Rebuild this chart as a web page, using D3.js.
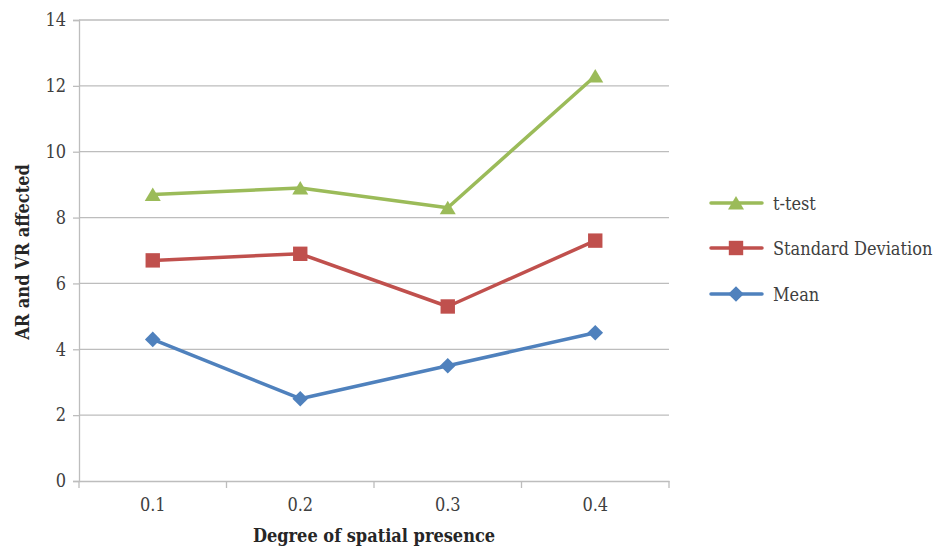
<!DOCTYPE html>
<html>
<head>
<meta charset="utf-8">
<script src="https://cdn.jsdelivr.net/npm/d3@7"></script>
<style>
  html, body { margin: 0; padding: 0; background: #fff; }
  svg { display: block; }
  text { font-family: "DejaVu Serif Condensed", "DejaVu Serif", serif; }
</style>
</head>
<body>
<svg id="chart" width="947" height="547"></svg>
<script>
// Categories along the x axis
const categories = ["0.1", "0.2", "0.3", "0.4"];
// Series values
const ttestValues = [8.7, 8.9, 8.3, 12.3];
const sdValues = [6.7, 6.9, 5.3, 7.3];
const meanValues = [4.3, 2.5, 3.5, 4.5];
// Y tick values
const yTicks = [0, 2, 4, 6, 8, 10, 12, 14];

const seriesNames = ["t-test", "Standard Deviation", "Mean"];
const seriesColors = ["#9BBB59", "#C0504D", "#4F81BD"];
const seriesShapes = ["triangle", "square", "diamond"];
const seriesValues = [ttestValues, sdValues, meanValues];

const svg = d3.select("#chart");
const plotLeft = 79, plotRight = 669, plotTop = 20, plotBottom = 481;

const x = d3.scaleBand().domain(categories).range([plotLeft, plotRight]);
const y = d3.scaleLinear().domain([0, 14]).range([plotBottom, plotTop]);

// Horizontal gridlines
svg.append("g").selectAll("line").data(yTicks.filter(d => d > 0)).join("line")
  .attr("x1", plotLeft).attr("x2", plotRight)
  .attr("y1", d => y(d)).attr("y2", d => y(d))
  .attr("stroke", "#BDBDBD").attr("stroke-width", 1.3);

// Y axis
const yAxis = svg.append("g").attr("transform", `translate(${plotLeft},0)`)
  .call(d3.axisLeft(y).tickValues(yTicks).tickSize(6).tickPadding(7));
yAxis.select(".domain").attr("stroke", "#BDBDBD").attr("stroke-width", 1.3);
yAxis.selectAll(".tick line").attr("stroke", "#BDBDBD").attr("stroke-width", 1.3);
yAxis.selectAll(".tick text").attr("fill", "#404040")
  .style("font-size", "18px").style("font-weight", "300");

// X axis with ticks at band boundaries
const xAxis = svg.append("g").attr("transform", `translate(0,${plotBottom})`)
  .call(d3.axisBottom(x).tickSize(0).tickPadding(17));
xAxis.select(".domain").attr("stroke", "#BDBDBD").attr("stroke-width", 1.3);
xAxis.selectAll(".tick text").attr("fill", "#404040")
  .style("font-size", "18px").style("font-weight", "300");
const bounds = categories.map(c => x(c)).concat([x(categories[categories.length - 1]) + x.bandwidth()]);
svg.append("g").selectAll("line").data(bounds).join("line")
  .attr("x1", d => d).attr("x2", d => d)
  .attr("y1", plotBottom).attr("y2", plotBottom + 7)
  .attr("stroke", "#BDBDBD").attr("stroke-width", 1.3);

// Axis titles
svg.append("text")
  .attr("x", (plotLeft + plotRight) / 2).attr("y", 542)
  .attr("text-anchor", "middle")
  .attr("fill", "#262626")
  .style("font-size", "18px").style("font-weight", "bold")
  .text("Degree of spatial presence");
svg.append("text")
  .attr("transform", `translate(29,252) rotate(-90)`)
  .attr("text-anchor", "middle")
  .attr("fill", "#262626")
  .style("font-size", "18px").style("font-weight", "bold")
  .text("AR and VR affected");

// Marker outlines, centred on the data point
const markerPaths = {
  triangle: "M0,-7 L8,6.5 L-8,6.5 Z",
  square: "M-7.2,-7.2 H7.2 V7.2 H-7.2 Z",
  diamond: "M0,-7.8 L7.8,0 L0,7.8 L-7.8,0 Z"
};

function marker(sel, shape, color) {
  sel.append("path").attr("d", markerPaths[shape]).attr("fill", color);
}

const line = d3.line()
  .x((d, i) => x(categories[i]) + x.bandwidth() / 2)
  .y(d => y(d));

// Lines and markers (drawn bottom series first)
[2, 1, 0].forEach(s => {
  const g = svg.append("g");
  g.append("path").datum(seriesValues[s])
    .attr("d", line).attr("fill", "none")
    .attr("stroke", seriesColors[s]).attr("stroke-width", 3.5)
    .attr("stroke-linejoin", "round");
  seriesValues[s].forEach((v, i) => {
    const m = g.append("g")
      .attr("transform", `translate(${x(categories[i]) + x.bandwidth() / 2},${y(v)})`);
    marker(m, seriesShapes[s], seriesColors[s]);
  });
});

// Legend
const legendY = [203, 248, 294];
seriesNames.forEach((name, s) => {
  const g = svg.append("g").attr("transform", `translate(0,${legendY[s]})`);
  g.append("line").attr("x1", 711).attr("x2", 762).attr("y1", 0).attr("y2", 0)
    .attr("stroke", seriesColors[s]).attr("stroke-width", 3.5).attr("stroke-linecap", "round");
  const m = g.append("g").attr("transform", "translate(736,0)");
  marker(m, seriesShapes[s], seriesColors[s]);
  g.append("text").attr("x", 773).attr("y", 6.5)
    .attr("fill", "#404040")
    .style("font-size", "18px").style("font-weight", "300")
    .text(name);
});
</script>
</body>
</html>
